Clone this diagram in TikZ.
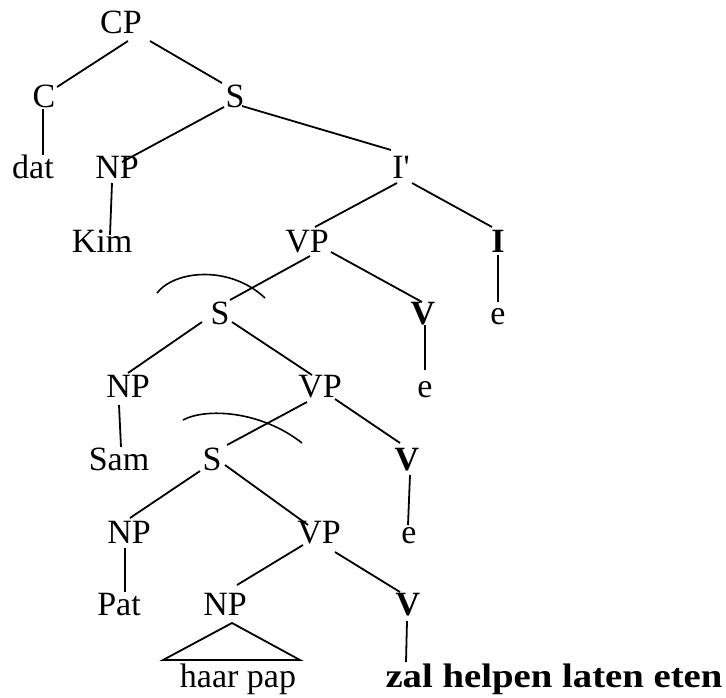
\documentclass[tikz,border=0pt]{standalone}
\usepackage{fontspec}
\setmainfont{Liberation Serif}[Ligatures=TeXOff]
\usepackage{graphicx}
\begin{document}
\begin{tikzpicture}[x=1pt,y=-1pt,
  lbl/.style={anchor=base,inner sep=0pt,font=\fontsize{34}{37}\selectfont},
  edge/.style={line width=1.8pt},
  boundary/.style={line width=1.6pt}]
\useasboundingbox (0,0) rectangle (726,697);

% tree labels, placed on their baselines
\node[lbl] (CP)  at (121,33)  {CP};
\node[lbl] (C)   at (44,107)  {C};
\node[lbl] (S1)  at (235,107) {S};
\node[lbl] (dat) at (33,178)  {dat};
\node[lbl] (NP1) at (117,178) {NP};
\node[lbl] (Ib)  at (401,178) {I'};
\node[lbl] (Kim) at (102,252) {Kim};
\node[lbl] (VP1) at (307,252) {VP};
\node[lbl] (I)   at (498,252) {\textbf{I}};
\node[lbl] (S2)  at (220,324) {S};
\node[lbl] (V1)  at (423,324) {\textbf{V}};
\node[lbl] (e1)  at (498,324) {e};
\node[lbl] (NP2) at (128,397) {NP};
\node[lbl] (VP2) at (320,397) {VP};
\node[lbl] (e2)  at (425,397) {e};
\node[lbl] (Sam) at (119,470) {Sam};
\node[lbl] (S3)  at (212,470) {S};
\node[lbl] (V2)  at (407,470) {\textbf{V}};
\node[lbl] (NP3) at (129,543) {NP};
\node[lbl] (VP3) at (319,543) {VP};
\node[lbl] (e3)  at (409,543) {e};
\node[lbl] (Pat) at (119,615) {Pat};
\node[lbl] (NP4) at (225,615) {NP};
\node[lbl] (V3)  at (408,615) {\textbf{V}};
\node[lbl] (hp)  at (238,687) {haar pap};
\node[lbl] (zal) at (554,687) {\scalebox{1.14}[1]{\textbf{zal helpen laten eten}}};

% branches
\draw[edge] ([shift={(7,8)}]CP.base)    -- ([shift={(13,-20)}]C.base);
\draw[edge] ([shift={(29,8)}]CP.base)   -- ([shift={(-13,-24)}]S1.base);
\draw[edge] ([shift={(-1,2)}]C.base)    -- ([shift={(10,-23)}]dat.base);
\draw[edge] ([shift={(-11,0)}]S1.base)  -- ([shift={(5,-16)}]NP1.base);
\draw[edge] ([shift={(7,-1)}]S1.base)   -- ([shift={(-10,-28)}]Ib.base);
\draw[edge] ([shift={(-5,5)}]NP1.base)  -- ([shift={(8,-17)}]Kim.base);
\draw[edge] ([shift={(-4,5)}]Ib.base)   -- ([shift={(8,-25)}]VP1.base);
\draw[edge] ([shift={(11,5)}]Ib.base)   -- ([shift={(-6,-25)}]I.base);
\draw[edge] ([shift={(0,3)}]I.base)     -- ([shift={(0,-22)}]e1.base);
\draw[edge] ([shift={(3,4)}]VP1.base)   -- ([shift={(10,-24)}]S2.base);
\draw[edge] ([shift={(24,0)}]VP1.base)  -- ([shift={(-1,-22)}]V1.base);
\draw[edge] ([shift={(2,1)}]V1.base)    -- ([shift={(0,-27)}]e2.base);
\draw[edge] ([shift={(-18,-2)}]S2.base) -- ([shift={(0,-24)}]NP2.base);
\draw[edge] ([shift={(12,-2)}]S2.base)  -- ([shift={(-8,-22)}]VP2.base);
\draw[edge] ([shift={(-9,8)}]NP2.base)  -- ([shift={(2,-23)}]Sam.base);
\draw[edge] ([shift={(-13,5)}]VP2.base) -- ([shift={(15,-25)}]S3.base);
\draw[edge] ([shift={(15,2)}]VP2.base)  -- ([shift={(-7,-27)}]V2.base);
\draw[edge] ([shift={(3,5)}]V2.base)    -- ([shift={(-1,-18)}]e3.base);
\draw[edge] ([shift={(-12,1)}]S3.base)  -- ([shift={(1,-25)}]NP3.base);
\draw[edge] ([shift={(13,-5)}]S3.base)  -- ([shift={(-11,-18)}]VP3.base);
\draw[edge] ([shift={(-4,5)}]NP3.base)  -- ([shift={(6,-23)}]Pat.base);
\draw[edge] ([shift={(-16,2)}]VP3.base) -- ([shift={(12,-30)}]NP4.base);
\draw[edge] ([shift={(16,9)}]VP3.base)  -- ([shift={(-8,-23)}]V3.base);
\draw[edge] ([shift={(-1,6)}]V3.base)   -- ([shift={(-148,-25)}]zal.base);

% triangle over the unanalysed phrase
\draw[edge] ([shift={(7,8)}]NP4.base) -- ([shift={(-75,-27)}]hp.base)
  -- ([shift={(62,-27)}]hp.base) -- cycle;

% arcs across the clause boundaries
\draw[boundary] (157,293) .. controls (175,270) and (230,265) .. (265,298);
\draw[boundary] (183,420) .. controls (205,408) and (260,410) .. (302,443);
\end{tikzpicture}
\end{document}
